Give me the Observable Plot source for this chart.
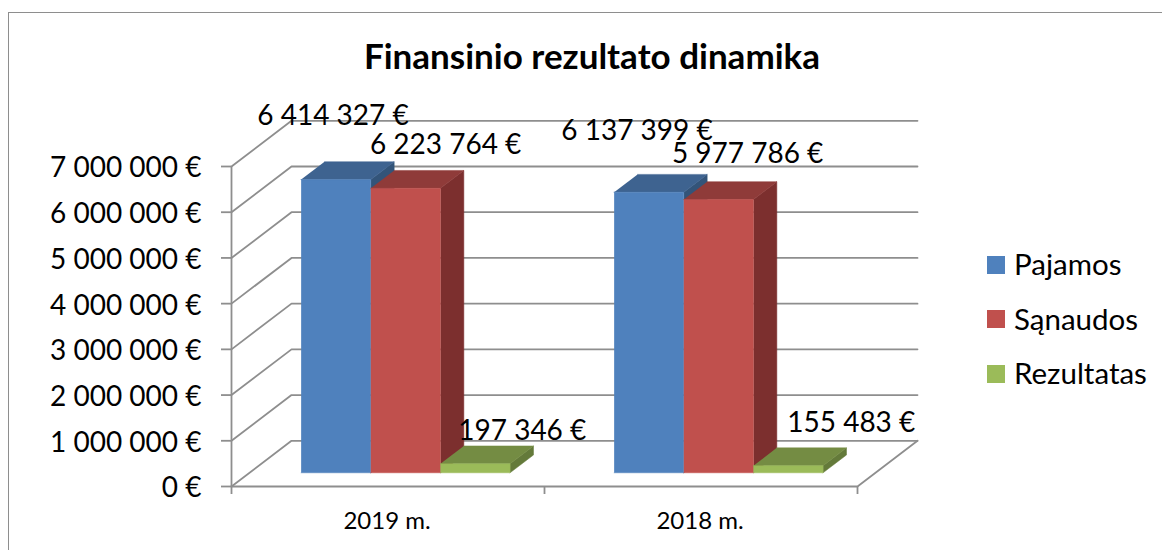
<!DOCTYPE html>
<html>
<head>
<meta charset="utf-8">
<script src="https://cdn.jsdelivr.net/npm/d3@7"></script>
<script src="https://cdn.jsdelivr.net/npm/@observablehq/plot@0.6"></script>
<style>
  html, body { margin: 0; padding: 0; background: #fff; overflow: hidden; }
  #wrap { position: relative; width: 1162px; height: 550px; font-family: Lato, sans-serif; color: #000; }
  #border { position: absolute; left: 8px; top: 12px; right: -4px; bottom: -4px; border: 1.5px solid #8e8e8e; }
  #title { position: absolute; left: 0; top: 34px; width: 1184px; text-align: center; font-size: 35px; font-weight: 700; line-height: 42px; }
  #legend { position: absolute; left: 987px; top: 236.5px; }
  .item { display: flex; align-items: center; height: 54.5px; font-size: 29.5px; }
  .swatch { width: 18px; height: 18px; margin-right: 9px; position: relative; top: 1px; }
  svg { position: absolute; left: 0; top: 0; }
</style>
</head>
<body>
<div id="wrap">
  <div id="border"></div>
  <div id="title">Finansinio rezultato dinamika</div>
  <div id="legend"></div>
</div>
<script>
const categories = ["2019 m.", "2018 m."];
const seriesNames = ["Pajamos", "Sąnaudos", "Rezultatas"];
const pajamos = [6414327, 6137399];
const sanaudos = [6223764, 5977786];
const rezultatas = [197346, 155483];
const yTicks = [0, 1000000, 2000000, 3000000, 4000000, 5000000, 6000000, 7000000];

const seriesValues = [pajamos, sanaudos, rezultatas];
const frontColors = ["#4F81BD", "#C0504D", "#9BBB59"];
const topColors = ["#3E6390", "#8F3B39", "#748C43"];
const sideColors = ["#335479", "#7C2F2E", "#647A3A"];
const gridColor = "#8E8E8E";

// Oblique projection of (category position, value, depth) on to the x and y scales
const depthX = 0.1917, depthY = 1000000;
const px = (x, d) => x + d * depthX;
const py = (v, d) => v + d * depthY;
const pt = (x, v, d) => ({x: px(x, d), y: py(v, d)});

// Bar layout, in category widths and depth fractions
const barStart = 0.165, barWidth = 0.2225, depthFront = 0.3, depthBack = 0.69;

const spaced = d3.formatLocale({decimal: ",", thousands: " ", grouping: [3], currency: ["", ""]}).format(",d");
const euro = (v) => `${spaced(v)} €`;

const face = (points, fill) => Plot.line(points, {x: "x", y: "y", fill, stroke: fill, strokeWidth: 0.5});

const marks = [];

// Back wall and side wall gridlines
for (const v of yTicks) {
  marks.push(Plot.line([pt(0, v, 0), pt(0, v, 1), pt(2, v, 1)], {x: "x", y: "y", stroke: gridColor, strokeWidth: 1.8}));
}
marks.push(Plot.line([pt(2, 0, 1), pt(2, 0, 0), pt(0, 0, 0)], {x: "x", y: "y", stroke: gridColor, strokeWidth: 1.8}));
marks.push(Plot.ruleX([0], {y1: 0, y2: yTicks[yTicks.length - 1], stroke: gridColor, strokeWidth: 1.8}));

// 3D bars
categories.forEach((cat, c) => {
  seriesValues.forEach((vals, s) => {
    const x0 = c + barStart + s * barWidth, x1 = x0 + barWidth, v = vals[c];
    marks.push(face([pt(x1, 0, depthFront), pt(x1, 0, depthBack), pt(x1, v, depthBack), pt(x1, v, depthFront)], sideColors[s]));
    marks.push(face([pt(x0, v, depthFront), pt(x1, v, depthFront), pt(x1, v, depthBack), pt(x0, v, depthBack)], topColors[s]));
    marks.push(face([pt(x0, 0, depthFront), pt(x1, 0, depthFront), pt(x1, v, depthFront), pt(x0, v, depthFront)], frontColors[s]));
  });
});

// Axes
marks.push(Plot.axisY({
  ticks: yTicks, tickSize: 10, tickFormat: () => "", label: null,
  stroke: gridColor, strokeWidth: 1.8, anchor: "left"
}));
marks.push(Plot.text(yTicks, {
  x: 0, y: (d) => d, text: euro, textAnchor: "end", dx: -30, dy: 2, fontSize: 28, fill: "#000"
}));
marks.push(Plot.axisX({
  ticks: [0, 1, 2], tickSize: 8, tickFormat: () => "", label: null,
  stroke: gridColor, strokeWidth: 1.8, anchor: "bottom"
}));
marks.push(Plot.text(categories, {
  x: (d, i) => i + 0.5, y: 0, text: (d) => d, dx: -1, dy: 35, fontSize: 24, fill: "#000"
}));

// Data labels, hand-placed beside their bars as in the reference
const labelShift = [
  [[-3, -64], [40, -43], [47, -33]],
  [[-12, -61], [29, -45], [63, -43]]
];
categories.forEach((cat, c) => {
  seriesValues.forEach((vals, s) => {
    marks.push(Plot.text([vals[c]], {
      x: c + barStart + (s + 0.5) * barWidth + depthFront * depthX,
      y: (d) => py(d, depthFront),
      text: euro, fontSize: 28, fill: "#000",
      dx: labelShift[c][s][0], dy: labelShift[c][s][1]
    }));
  });
});

const chart = Plot.plot({
  width: 1162,
  height: 550,
  marginLeft: 231,
  marginRight: 305,
  marginTop: 166,
  marginBottom: 64,
  style: {background: "transparent", fontFamily: "Lato, sans-serif", overflow: "visible"},
  x: {domain: [0, 2], axis: null},
  y: {domain: [0, 7000000], axis: null},
  marks
});
document.getElementById("wrap").appendChild(chart);

const legend = document.getElementById("legend");
seriesNames.forEach((name, i) => {
  const item = document.createElement("div");
  item.className = "item";
  const sw = document.createElement("span");
  sw.className = "swatch";
  sw.style.background = frontColors[i];
  const label = document.createElement("span");
  label.textContent = name;
  item.append(sw, label);
  legend.appendChild(item);
});
</script>
</body>
</html>
